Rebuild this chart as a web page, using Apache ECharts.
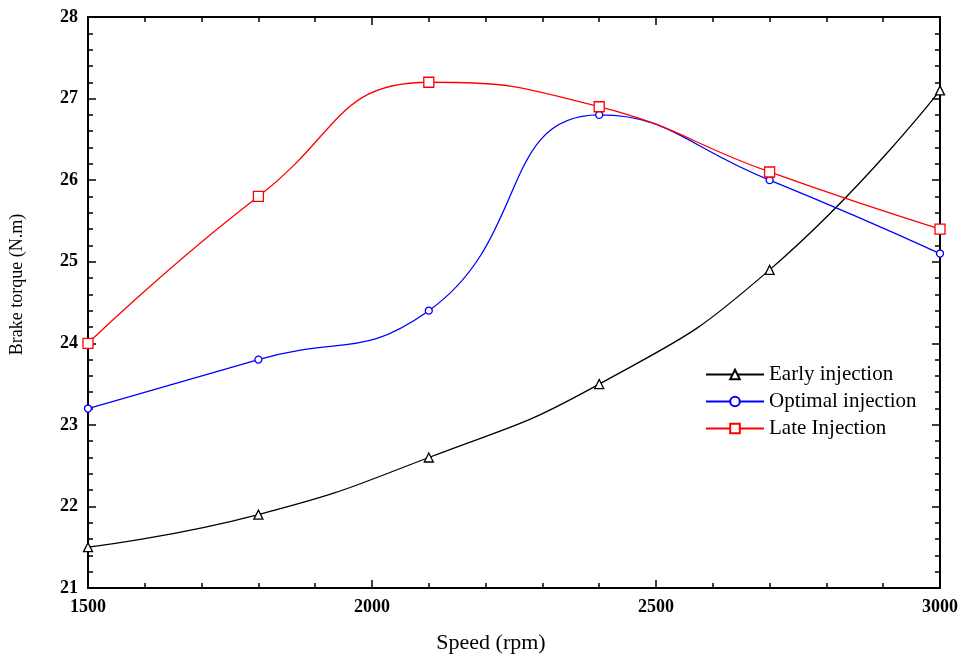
<!DOCTYPE html>
<html>
<head>
<meta charset="utf-8">
<script src="https://cdn.jsdelivr.net/npm/echarts@6/dist/echarts.min.js"></script>
<style>html,body{margin:0;padding:0;background:#fff}#c{width:961px;height:659px}</style>
</head>
<body>
<div id="c"></div>
<script>
const speeds = [1500, 1800, 2100, 2400, 2700, 3000];
const early = [21.5, 21.9, 22.6, 23.5, 24.9, 27.1];
const optimal = [23.2, 23.8, 24.4, 26.8, 26.0, 25.1];
const late = [24.0, 25.8, 27.2, 26.9, 26.1, 25.4];
const seriesNames = ['Early injection', 'Optimal injection', 'Late Injection'];

const font = 'Liberation Serif, Times New Roman, serif';
const pair = arr => speeds.map((s, i) => [s, arr[i]]);

const chart = echarts.init(document.getElementById('c'));
const axisLine = {show: true, lineStyle: {color: '#000', width: 2}};
const tick = {show: true, inside: true, length: 8, lineStyle: {color: '#000', width: 1.5}};
const minor = {show: true, splitNumber: 5, length: 5, lineStyle: {color: '#000', width: 1.5}};
function mk(name, data, color, symbol, size) {
  return {
    name, type: 'line', data: pair(data), smooth: 0.5,
    symbol, symbolSize: size, showAllSymbol: true,
    lineStyle: {color, width: 1.3},
    itemStyle: {color: '#fff', borderColor: color, borderWidth: 1.3},
    emphasis: {disabled: true}
  };
}
chart.setOption({
  animation: false,
  grid: {left: 86, right: 21, top: 17, bottom: 70},
  legend: {
    orient: 'vertical', left: 700, top: 359, itemWidth: 58, itemHeight: 12, itemGap: 6,
    textStyle: {fontFamily: font, fontSize: 21, color: '#000'},
    data: seriesNames
  },
  xAxis: [{
    type: 'value', min: 1500, max: 3000, interval: 500,
    name: 'Speed (rpm)', nameLocation: 'middle', nameGap: 44,
    nameTextStyle: {fontFamily: font, fontSize: 22, color: '#000', padding: [0, 46, 0, 0]},
    axisLine, axisTick: tick, minorTick: {...minor, inside: true},
    splitLine: {show: false},
    axisLabel: {fontFamily: font, fontSize: 18, fontWeight: 'bold', color: '#000', margin: 10,
      formatter: v => String(v)}
  }, {
    type: 'value', min: 1500, max: 3000, interval: 500, position: 'top',
    axisLine, axisTick: tick, minorTick: minor, splitLine: {show: false}, axisLabel: {show: false}
  }],
  yAxis: [{
    type: 'value', min: 21, max: 28, interval: 1,
    name: 'Brake torque (N.m)', nameLocation: 'middle', nameGap: 62,
    nameTextStyle: {fontFamily: font, fontSize: 18, color: '#000', padding: [0, 0, 0, 36]},
    axisLine, axisTick: tick, minorTick: minor,
    splitLine: {show: false},
    axisLabel: {fontFamily: font, fontSize: 18, fontWeight: 'bold', color: '#000', margin: 10}
  }, {
    type: 'value', min: 21, max: 28, interval: 1, position: 'right',
    axisLine, axisTick: tick, minorTick: minor, splitLine: {show: false}, axisLabel: {show: false}
  }],
  series: [
    mk(seriesNames[0], early, '#000000', 'triangle', 9),
    mk(seriesNames[1], optimal, '#0000ff', 'circle', 7),
    mk(seriesNames[2], late, '#ff0000', 'rect', 10)
  ]
});
</script>
</body>
</html>
